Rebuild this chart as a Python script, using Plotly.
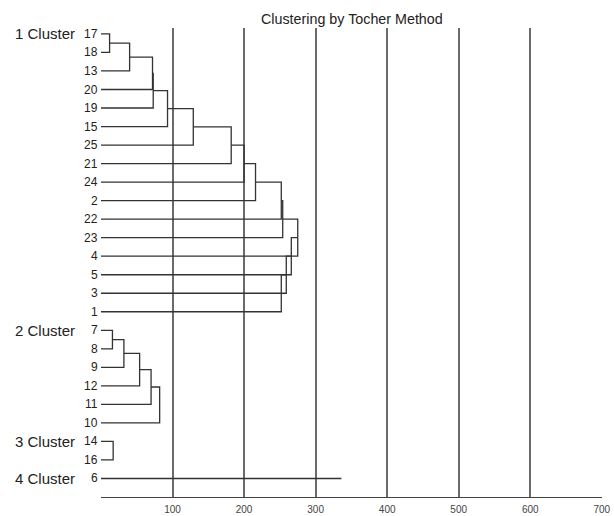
import plotly.graph_objects as go

# ---- data ----
cluster_names = ["1 Cluster", "2 Cluster", "3 Cluster", "4 Cluster"]
cluster1_leaves = ["17", "18", "13", "20", "19", "15", "25", "21", "24", "2", "22", "23", "4", "5", "3", "1"]
cluster1_heights = [12, 40, 72, 73, 93, 129, 182, 200, 216, 252, 254, 275, 266, 259, 252]
cluster2_leaves = ["7", "8", "9", "12", "11", "10"]
cluster2_heights = [16, 32, 54, 70, 82]
cluster3_leaves = ["14", "16"]
cluster3_heights = [17]
cluster4_leaves = ["6"]
cluster4_heights = [336]
x_ticks = [100, 200, 300, 400, 500, 600, 700]
title_text = "Clustering by Tocher Method"

clusters = [
    (cluster1_leaves, cluster1_heights),
    (cluster2_leaves, cluster2_heights),
    (cluster3_leaves, cluster3_heights),
    (cluster4_leaves, cluster4_heights),
]

FONT = "Liberation Sans, Arial, sans-serif"
xs, ys = [], []
annotations = []
LABEL_FONT = dict(family=FONT, size=12, color="#222")
pos = 0
for ci, (leaves, heights) in enumerate(clusters):
    ypos = list(range(pos, pos + len(leaves)))
    if len(leaves) == 1:
        xs += [0, heights[0], None]
        ys += [ypos[0], ypos[0], None]
    else:
        h = heights[0]
        xs += [0, h, h, 0, None]
        ys += [ypos[0], ypos[0], ypos[1], ypos[1], None]
        nx, ny = h, (ypos[0] + ypos[1]) / 2
        for k in range(2, len(leaves)):
            h = heights[k - 1]
            xs += [nx, h, h, 0, None]
            ys += [ny, ny, ypos[k], ypos[k], None]
            nx, ny = h, (ny + ypos[k]) / 2
    for lab, yp in zip(leaves, ypos):
        annotations.append(dict(x=0, xref="paper", y=yp, yref="y", text=lab, showarrow=False,
                                xanchor="right", yanchor="middle", xshift=-1, font=LABEL_FONT))
    annotations.append(dict(x=0, xref="paper", y=ypos[0], yref="y", text=cluster_names[ci], showarrow=False,
                            xanchor="right", yanchor="middle", xshift=-24,
                            font=dict(family=FONT, size=15, color="#222")))
    pos += len(leaves)

annotations.append(dict(x=0.5, xref="paper", y=1.019, yref="paper", text=title_text, showarrow=False,
                        xanchor="center", yanchor="middle",
                        font=dict(family=FONT, size=14.3, color="#222")))

fig = go.Figure()
fig.add_trace(go.Scatter(x=xs, y=ys, mode="lines", line=dict(color="#333", width=1.3),
                         hoverinfo="skip", showlegend=False, cliponaxis=False))

fig.update_layout(
    width=614, height=516,
    margin=dict(l=101.4, r=11.7, t=28, b=18.5),
    paper_bgcolor="white", plot_bgcolor="white",
    annotations=annotations,
    showlegend=False,
)
fig.update_xaxes(range=[0, 700.3], tickvals=x_ticks, ticktext=[str(v) for v in x_ticks],
                 showgrid=True, gridcolor="#6a6a6a", gridwidth=2, zeroline=False,
                 showline=True, linecolor="#444", linewidth=1.3, ticks="",
                 ticklabelstandoff=3, automargin=False,
                 tickfont=dict(family=FONT, size=10, color="#444"))
fig.update_yaxes(range=[pos, -0.32], showgrid=False, zeroline=False, showticklabels=False,
                 showline=False, automargin=False)

fig.write_html("out.html", config={"displayModeBar": False},
               post_script="document.body.style.margin='0';document.body.style.overflow='hidden';")
